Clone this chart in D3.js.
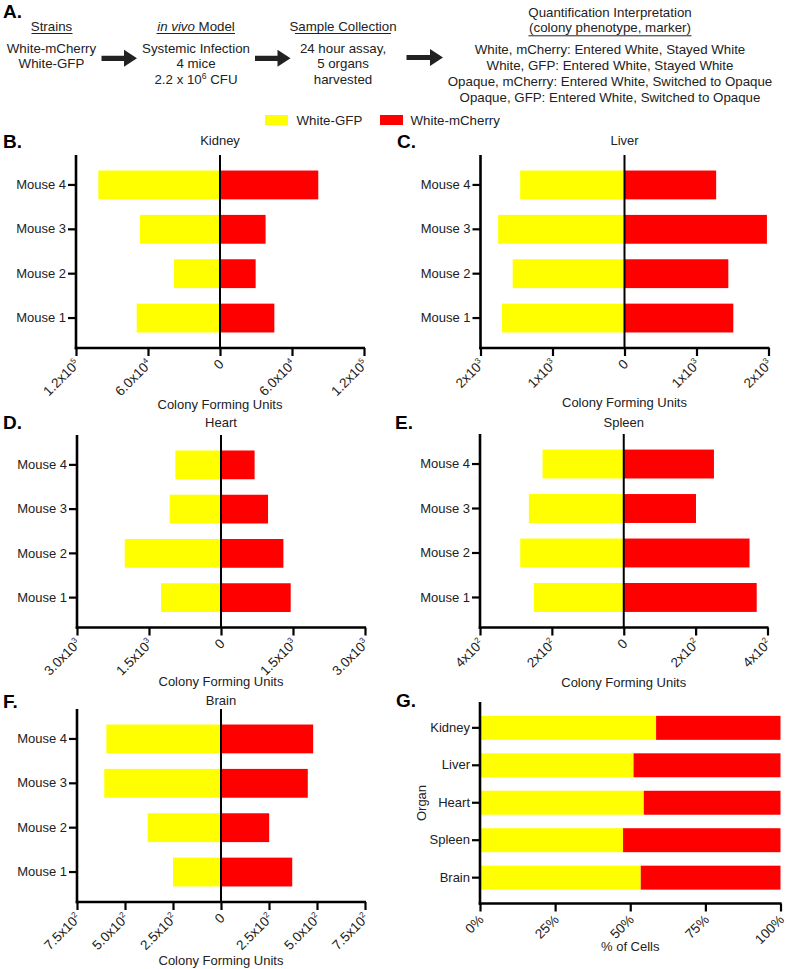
<!DOCTYPE html>
<html><head><meta charset="utf-8">
<script src="https://cdn.jsdelivr.net/npm/d3@7"></script>
<style>
body{margin:0;background:#fff;}
svg{display:block;font-family:"Liberation Sans",Arial,Helvetica,sans-serif;}
</style></head>
<body><svg id="chart" width="787" height="969"></svg>
<script>
// ---------- DATA ----------
const mice = ["Mouse 4", "Mouse 3", "Mouse 2", "Mouse 1"]; // top to bottom
const seriesNames = ["White-GFP", "White-mCherry"];
const seriesColors = ["#FFFF00", "#FF0000"];
// values listed Mouse 4, Mouse 3, Mouse 2, Mouse 1
const kidneyGFP = [101400, 66700, 38300, 69400];
const kidneyMCherry = [81900, 38000, 29700, 45300];
const liverGFP = [1449, 1755, 1553, 1701];
const liverMCherry = [1273, 1978, 1442, 1511];
const heartGFP = [950, 1070, 2005, 1250];
const heartMCherry = [700, 980, 1300, 1452];
const spleenGFP = [226, 264, 288, 250];
const spleenMCherry = [251, 201, 350, 370];
const brainGFP = [597, 608, 382, 250];
const brainMCherry = [480, 452, 251, 371];

const organs = ["Kidney", "Liver", "Heart", "Spleen", "Brain"];
const pctGFP = [58.6, 51.1, 54.5, 47.6, 53.5];
const pctMCherry = [41.4, 48.9, 45.5, 52.4, 46.5];

const kidneyTicks = [-120000, -60000, 0, 60000, 120000];
const kidneyTickLabels = [["1.2x10","5"], ["6.0x10","4"], ["0",""], ["6.0x10","4"], ["1.2x10","5"]];
const liverTicks = [-2000, -1000, 0, 1000, 2000];
const liverTickLabels = [["2x10","3"], ["1x10","3"], ["0",""], ["1x10","3"], ["2x10","3"]];
const heartTicks = [-3000, -1500, 0, 1500, 3000];
const heartTickLabels = [["3.0x10","3"], ["1.5x10","3"], ["0",""], ["1.5x10","3"], ["3.0x10","3"]];
const spleenTicks = [-400, -200, 0, 200, 400];
const spleenTickLabels = [["4x10","2"], ["2x10","2"], ["0",""], ["2x10","2"], ["4x10","2"]];
const brainTicks = [-750, -500, -250, 0, 250, 500, 750];
const brainTickLabels = [["7.5x10","2"], ["5.0x10","2"], ["2.5x10","2"], ["0",""], ["2.5x10","2"], ["5.0x10","2"], ["7.5x10","2"]];
const pctTicks = [0, 25, 50, 75, 100];
const pctTickLabels = [["0%",""], ["25%",""], ["50%",""], ["75%",""], ["100%",""]];

// ---------- DRAW ----------
const svg = d3.select("#chart");
const FS = 13;
const FSA = 13.3;

// Panel A
const A = svg.append("g").attr("font-size", FSA).attr("fill", "#222");
svg.append("text").attr("x", 3).attr("y", 18).attr("font-size", 19).attr("font-weight", "bold").text("A.");
function centerText(g, x, y, parts) {
  const t = g.append("text").attr("x", x).attr("y", y).attr("text-anchor", "middle");
  parts.forEach(p => {
    const s = t.append("tspan").text(p.t);
    if (p.i) s.attr("font-style", "italic");
    if (p.sup) s.attr("font-size", 8.5).attr("dy", -5);
    if (p.after) s.attr("dy", 5);
  });
  return t;
}
function underline(g, x0, x1, y) {
  g.append("line").attr("x1", x0).attr("x2", x1).attr("y1", y).attr("y2", y).attr("stroke", "#222").attr("stroke-width", 1);
}
function arrow(g, x0, x1, y) {
  const hl = 13, hh = 8.5, sw = 2.6;
  g.append("path").attr("fill", "#222")
    .attr("d", `M${x0},${y - sw}L${x1 - hl},${y - sw}L${x1 - hl},${y - hh}L${x1},${y}L${x1 - hl},${y + hh}L${x1 - hl},${y + sw}L${x0},${y + sw}Z`);
}
centerText(A, 51.5, 31, [{t:"Strains"}]); underline(A, 31.5, 72.5, 33.5);
centerText(A, 51.5, 52.5, [{t:"White-mCherry"}]);
centerText(A, 51.5, 68, [{t:"White-GFP"}]);
arrow(A, 101.5, 137, 58.3);
centerText(A, 196, 31, [{t:"in vivo", i:true}, {t:" Model"}]); underline(A, 156.5, 235, 33.5);
centerText(A, 196, 52.5, [{t:"Systemic Infection"}]);
centerText(A, 196, 68, [{t:"4 mice"}]);
centerText(A, 196, 84, [{t:"2.2 x 10"}, {t:"6", sup:true}, {t:" CFU", after:true}]);
arrow(A, 255, 290.5, 58.3);
centerText(A, 343, 31, [{t:"Sample Collection"}]); underline(A, 295, 391, 33.5);
centerText(A, 343, 52.5, [{t:"24 hour assay,"}]);
centerText(A, 343, 68, [{t:"5 organs"}]);
centerText(A, 343, 84, [{t:"harvested"}]);
arrow(A, 406.5, 443, 57.5);
centerText(A, 610, 17, [{t:"Quantification Interpretation"}]);
centerText(A, 610, 32, [{t:"(colony phenotype, marker)"}]); underline(A, 528.5, 691.5, 35.8);
const qLines = ["White, mCherry: Entered White, Stayed White", "White, GFP: Entered White, Stayed White",
  "Opaque, mCherry: Entered White, Switched to Opaque", "Opaque, GFP: Entered White, Switched to Opaque"];
qLines.forEach((l, i) => centerText(A, 610, 53.5 + i * 16.2, [{t:l}]));

// Legend
const leg = svg.append("g").attr("font-size", FSA).attr("fill", "#222");
[[265, 296.5], [380, 410.5]].forEach((p, i) => {
  leg.append("rect").attr("x", p[0]).attr("y", 115).attr("width", 23).attr("height", 10).attr("fill", seriesColors[i]);
  leg.append("text").attr("x", p[1]).attr("y", 124.8).text(seriesNames[i]);
});

function styleAxis(g) {
  g.selectAll("path.domain").attr("stroke", "#000").attr("stroke-width", 2.6);
  g.selectAll(".tick line").attr("stroke", "#000").attr("stroke-width", 2.2);
  g.selectAll(".tick text").attr("fill", "#222").attr("font-size", FS)
    .attr("font-family", "'Liberation Sans',Arial,sans-serif");
}
function xTickLabels(g, labels) {
  g.selectAll(".tick text").each(function (d, i) {
    const t = d3.select(this);
    t.text(null).attr("x", 0).attr("y", 0).attr("dy", null)
      .attr("text-anchor", "end").attr("font-size", 13.5)
      .attr("transform", "translate(4,17) rotate(-45)");
    t.append("tspan").text(labels[i][0]);
    if (labels[i][1]) t.append("tspan").attr("font-size", 8).attr("dy", -5.5).text(labels[i][1]);
  });
}

function butterfly(cfg) {
  const g = svg.append("g");
  const x = d3.scaleLinear().domain([-cfg.max, cfg.max]).range([cfg.x0, cfg.x1]);
  const y = d3.scaleBand().domain(mice).range([cfg.top, cfg.bottom]).paddingInner(0.35).paddingOuter(0.35);
  g.selectAll("rect.gfp").data(cfg.gfp).join("rect")
    .attr("x", d => x(-d)).attr("width", d => x(0) - x(-d))
    .attr("y", (d, i) => y(mice[i])).attr("height", y.bandwidth()).attr("fill", seriesColors[0]);
  g.selectAll("rect.mch").data(cfg.mch).join("rect")
    .attr("x", x(0)).attr("width", d => x(d) - x(0))
    .attr("y", (d, i) => y(mice[i])).attr("height", y.bandwidth()).attr("fill", seriesColors[1]);
  g.append("line").attr("x1", x(0)).attr("x2", x(0)).attr("y1", cfg.top).attr("y2", cfg.bottom)
    .attr("stroke", "#000").attr("stroke-width", 2);
  const ya = g.append("g").attr("transform", `translate(${cfg.x0},0)`)
    .call(d3.axisLeft(y).tickSize(8).tickSizeOuter(0).tickPadding(2));
  styleAxis(ya);
  const xa = g.append("g").attr("transform", `translate(0,${cfg.bottom})`)
    .call(d3.axisBottom(x).tickValues(cfg.ticks).tickSize(8).tickSizeOuter(0));
  styleAxis(xa);
  xTickLabels(xa, cfg.labels);
  ya.select("path.domain").attr("d", `M0,${cfg.top}V${cfg.bottom + 1.3}`);
  xa.select("path.domain").attr("d", `M${cfg.x0 - 1.3},0H${cfg.x1 + 1}`);
  g.append("text").attr("x", (cfg.x0 + cfg.x1) / 2).attr("y", cfg.titleY).attr("text-anchor", "middle")
    .attr("font-size", FS).attr("fill", "#222").text(cfg.title);
  g.append("text").attr("x", (cfg.x0 + cfg.x1) / 2).attr("y", cfg.xlabY).attr("text-anchor", "middle")
    .attr("font-size", FS).attr("fill", "#222").text("Colony Forming Units");
  svg.append("text").attr("x", cfg.lx).attr("y", cfg.ly).attr("font-size", 19).attr("font-weight", "bold").text(cfg.letter);
}

butterfly({letter:"B.", lx:3, ly:148, title:"Kidney", titleY:144.5, xlabY:409, x0:76, x1:364, top:155, bottom:348,
  max:120000, ticks:kidneyTicks, labels:kidneyTickLabels, gfp:kidneyGFP, mch:kidneyMCherry});
butterfly({letter:"C.", lx:397, ly:148, title:"Liver", titleY:144.5, xlabY:407, x0:480.5, x1:768.5, top:155, bottom:348,
  max:2000, ticks:liverTicks, labels:liverTickLabels, gfp:liverGFP, mch:liverMCherry});
butterfly({letter:"D.", lx:3, ly:429, title:"Heart", titleY:426.5, xlabY:686, x0:77, x1:365, top:435, bottom:627.5,
  max:3000, ticks:heartTicks, labels:heartTickLabels, gfp:heartGFP, mch:heartMCherry});
butterfly({letter:"E.", lx:395, ly:429, title:"Spleen", titleY:427, xlabY:686.5, x0:480, x1:767.5, top:434, bottom:627.5,
  max:400, ticks:spleenTicks, labels:spleenTickLabels, gfp:spleenGFP, mch:spleenMCherry});
butterfly({letter:"F.", lx:3, ly:708, title:"Brain", titleY:705, xlabY:965, x0:77, x1:365, top:709, bottom:902,
  max:750, ticks:brainTicks, labels:brainTickLabels, gfp:brainGFP, mch:brainMCherry});

// Panel G
(function () {
  const x0 = 480, x1 = 780.5, top = 702, bottom = 903.5;
  const g = svg.append("g");
  const x = d3.scaleLinear().domain([0, 100]).range([x0, x1]);
  const y = d3.scaleBand().domain(organs).range([top, bottom]).paddingInner(0.36).paddingOuter(0.37);
  g.selectAll("rect.g").data(pctGFP).join("rect")
    .attr("x", x(0)).attr("width", d => x(d) - x(0))
    .attr("y", (d, i) => y(organs[i])).attr("height", y.bandwidth()).attr("fill", seriesColors[0]);
  g.selectAll("rect.r").data(pctMCherry).join("rect")
    .attr("x", (d, i) => x(pctGFP[i])).attr("width", d => x(d) - x(0))
    .attr("y", (d, i) => y(organs[i])).attr("height", y.bandwidth()).attr("fill", seriesColors[1]);
  const ya = g.append("g").attr("transform", `translate(${x0},0)`)
    .call(d3.axisLeft(y).tickSize(8).tickSizeOuter(0).tickPadding(2));
  styleAxis(ya);
  ya.select("path.domain").attr("d", `M0,${top}V${bottom + 1.3}`);
  const xa = g.append("g").attr("transform", `translate(0,${bottom})`)
    .call(d3.axisBottom(x).tickValues(pctTicks).tickSize(8).tickSizeOuter(0));
  styleAxis(xa);
  xTickLabels(xa, pctTickLabels);
  xa.select("path.domain").attr("d", `M${x0 - 1.3},0H${x1 + 1}`);
  g.append("text").attr("x", (x0 + x1) / 2).attr("y", 950.5).attr("text-anchor", "middle")
    .attr("font-size", FS).attr("fill", "#222").text("% of Cells");
  g.append("text").attr("transform", `translate(426,803) rotate(-90)`).attr("text-anchor", "middle")
    .attr("font-size", FS).attr("fill", "#222").text("Organ");
  svg.append("text").attr("x", 396).attr("y", 707).attr("font-size", 19).attr("font-weight", "bold").text("G.");
})();
</script></body></html>
